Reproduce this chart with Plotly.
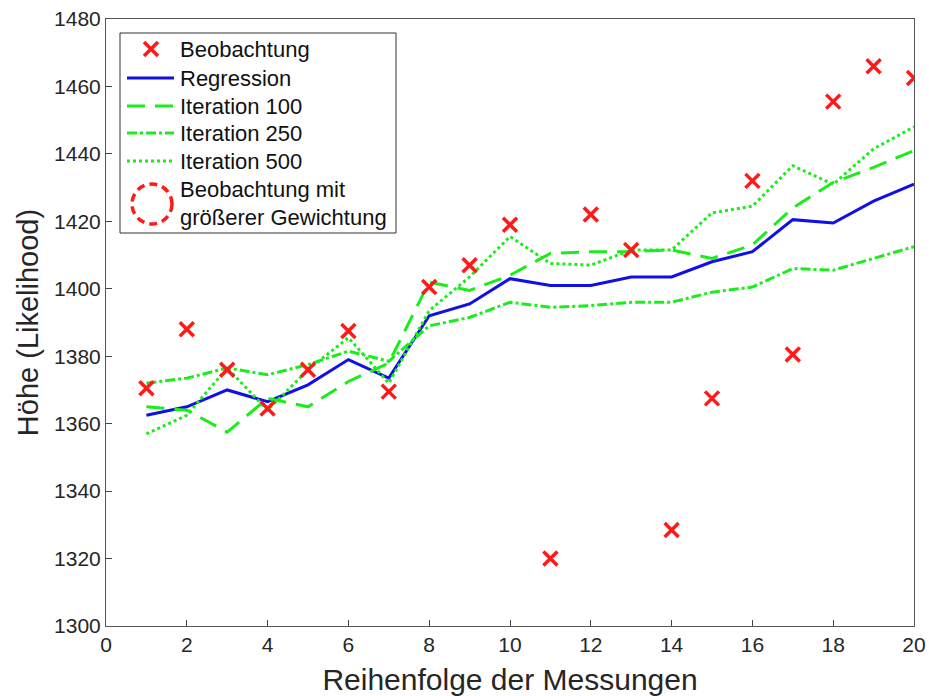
import plotly.graph_objects as go

# Messreihe und Ergebnisse
messung = list(range(1, 21))
beobachtung = [1370.5, 1388, 1376, 1364.5, 1376, 1387.5, 1369.5, 1400.5, 1407, 1419,
               1320, 1422, 1411.5, 1328.5, 1367.5, 1432, 1380.5, 1455.5, 1466, 1462.5]
regression = [1362.5, 1365, 1370, 1366.5, 1371.5, 1379, 1373.5, 1392, 1395.5, 1403,
              1401, 1401, 1403.5, 1403.5, 1408, 1411, 1420.5, 1419.5, 1426, 1431]
iter_100 = [1365, 1364, 1357.5, 1367.5, 1365, 1372.5, 1378, 1402, 1399.5, 1404,
            1410.5, 1411, 1411, 1411.5, 1409, 1413, 1424, 1431.5, 1436, 1441]
iter_250 = [1372, 1373.5, 1376.5, 1374.5, 1377.5, 1381.5, 1378.5, 1389, 1391.5, 1396,
            1394.5, 1395, 1396, 1396, 1399, 1400.5, 1406, 1405.5, 1409, 1412.5]
iter_500 = [1357, 1362.5, 1376.5, 1364, 1376, 1385.5, 1372, 1393.5, 1403.5, 1415.5,
            1407.5, 1407, 1411.5, 1411.5, 1422.5, 1424.5, 1436.5, 1431, 1441.5, 1448]

x_ticks = list(range(0, 21, 2))
y_ticks = list(range(1300, 1481, 20))

legend_labels = ["Beobachtung", "Regression", "Iteration 100", "Iteration 250",
                 "Iteration 500", "Beobachtung mit", "größerer Gewichtung"]

RED = "#ff1a1a"
GREEN = "#1aee1a"
BLUE = "#1010e6"
FONT = "Liberation Sans, Arial, sans-serif"
TXT = "#262626"

W, H = 929, 696
ML, MR, MT, MB = 106, 15, 19, 70
PW, PH = W - ML - MR, H - MT - MB

DASH_100 = "18px,10px"
DASH_250 = "10px,3px,3px,3px"
DASH_500 = "3px,3px"


def px(xp):
    """Pixelposition (horizontal) -> Papierkoordinate."""
    return (xp - ML) / PW


def py(yp):
    """Pixelposition (vertikal, von oben) -> Papierkoordinate."""
    return (H - MB - yp) / PH


fig = go.Figure()

fig.add_trace(go.Scatter(
    x=messung, y=regression, mode="lines", name="Regression",
    line=dict(color=BLUE, width=3)))
fig.add_trace(go.Scatter(
    x=messung, y=iter_100, mode="lines", name="Iteration 100",
    line=dict(color=GREEN, width=3, dash=DASH_100)))
fig.add_trace(go.Scatter(
    x=messung, y=iter_250, mode="lines", name="Iteration 250",
    line=dict(color=GREEN, width=3, dash=DASH_250)))
fig.add_trace(go.Scatter(
    x=messung, y=iter_500, mode="lines", name="Iteration 500",
    line=dict(color=GREEN, width=3, dash=DASH_500)))
fig.add_trace(go.Scatter(
    x=messung, y=beobachtung, mode="markers", name="Beobachtung",
    marker=dict(symbol="x-thin", size=14, color=RED,
                line=dict(color=RED, width=3.5))))

fig.update_layout(
    width=W, height=H,
    margin=dict(l=ML, r=MR, t=MT, b=MB),
    paper_bgcolor="white", plot_bgcolor="white",
    font=dict(family=FONT, color=TXT),
    showlegend=False,
)

fig.update_xaxes(
    range=[0, 20], tickvals=x_ticks, ticks="inside", ticklen=6, tickwidth=1,
    tickcolor="#444444", showline=True, linecolor="#555555", linewidth=1,
    mirror=True, showgrid=False, zeroline=False, automargin=False,
    tickfont=dict(size=21, color=TXT, family=FONT),
    title=dict(text="Reihenfolge der Messungen", font=dict(size=30, color=TXT), standoff=13),
)
fig.update_yaxes(
    range=[1300, 1480], tickvals=y_ticks, ticks="inside", ticklen=6, tickwidth=1,
    tickcolor="#444444", showline=True, linecolor="#555555", linewidth=1,
    mirror=True, showgrid=False, zeroline=False, automargin=False,
    tickfont=dict(size=21, color=TXT, family=FONT),
    title=dict(text="Höhe (Likelihood)", font=dict(size=29, color=TXT), standoff=6),
)

# --- Legende ---------------------------------------------------------------
shapes = []
# Rahmen
shapes.append(dict(type="rect", xref="paper", yref="paper",
                   x0=px(120), x1=px(396), y0=py(233), y1=py(33),
                   line=dict(color="#333333", width=1), fillcolor="white",
                   layer="above"))

row_y = [49, 78, 106, 133, 161]
sample_x0, sample_x1 = 127, 174

# Beobachtung: rotes Kreuz
cx, cy, r = 151, row_y[0], 7
for dy in (-r, r):
    shapes.append(dict(type="line", xref="paper", yref="paper",
                       x0=px(cx - r), x1=px(cx + r), y0=py(cy - dy), y1=py(cy + dy),
                       line=dict(color=RED, width=3.5), layer="above"))

# Linienproben
samples = [(BLUE, "solid"), (GREEN, DASH_100), (GREEN, DASH_250), (GREEN, DASH_500)]
for (col, dash), yy in zip(samples, row_y[1:]):
    shapes.append(dict(type="line", xref="paper", yref="paper",
                       x0=px(sample_x0), x1=px(sample_x1), y0=py(yy), y1=py(yy),
                       line=dict(color=col, width=3, dash=dash), layer="above"))

# gestrichelter Kreis
shapes.append(dict(type="circle", xref="paper", yref="paper",
                   x0=px(132), x1=px(172), y0=py(224), y1=py(184),
                   line=dict(color=RED, width=3.5, dash="8px,5px"), layer="above"))

fig.update_layout(shapes=shapes)

text_y = row_y + [189, 218]
for label, yy in zip(legend_labels, text_y):
    fig.add_annotation(
        xref="paper", yref="paper", x=px(178), y=py(yy),
        xanchor="left", yanchor="middle", showarrow=False,
        text=label, font=dict(size=22, color="#111111", family=FONT))

fig.write_html("out.html")
